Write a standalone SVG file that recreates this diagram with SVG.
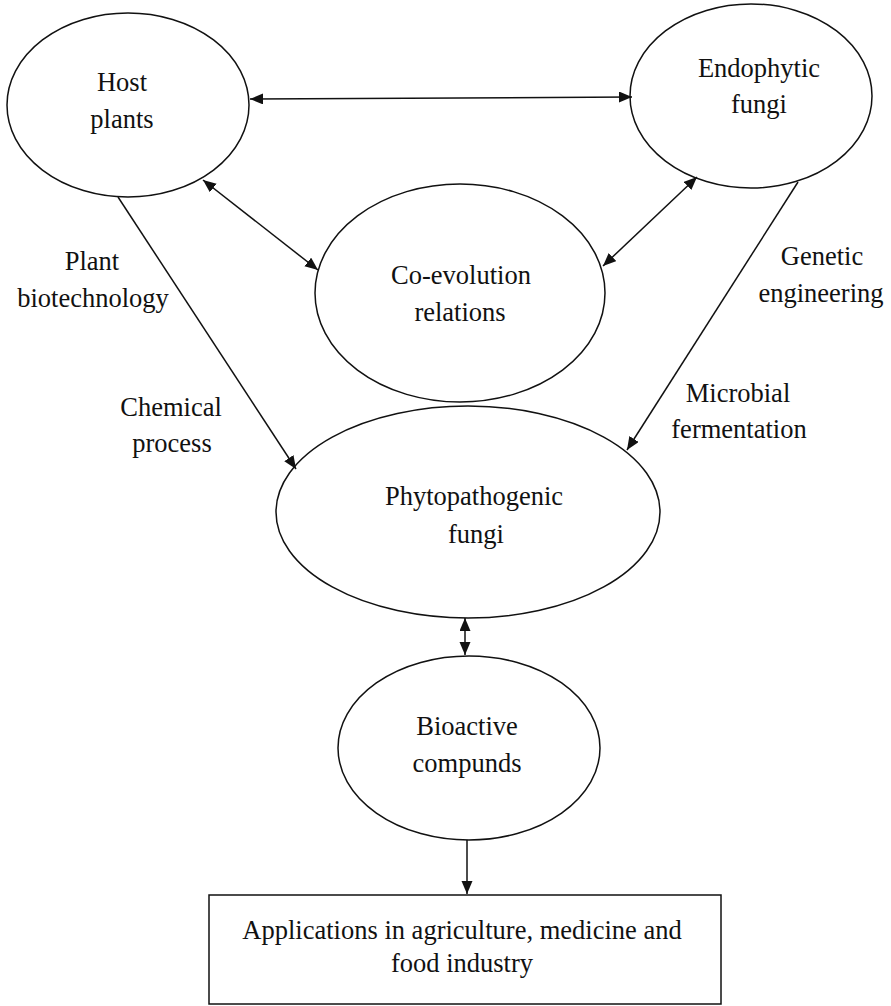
<svg xmlns="http://www.w3.org/2000/svg" width="891" height="1006" viewBox="0 0 891 1006">
<style>
.node{fill:#fff;stroke:#111;stroke-width:1.5}
.t{font-family:'Liberation Serif','Tinos','DejaVu Serif',serif;font-size:26.5px;fill:#111;text-anchor:middle}
.c{stroke:#111;stroke-width:1.5;fill:none}
</style>
<defs>
<marker id="ah" markerUnits="userSpaceOnUse" markerWidth="14" markerHeight="12" refX="13" refY="5.5" orient="auto-start-reverse" viewBox="0 0 14 12">
<path d="M0,0 L13,5.5 L0,11 z" fill="#111"/>
</marker>
</defs>
<rect width="891" height="1006" fill="#fff"/>
<g id="host-plants">
<ellipse class="node" cx="128" cy="105" rx="121" ry="92"/>
<text class="t" x="122" y="91">Host</text>
<text class="t" x="122" y="128">plants</text>
</g>
<g id="endophytic-fungi">
<ellipse class="node" cx="751" cy="96" rx="121" ry="92"/>
<text class="t" x="759" y="77">Endophytic</text>
<text class="t" x="759" y="113">fungi</text>
</g>
<g id="co-evolution">
<ellipse class="node" cx="460" cy="293" rx="145" ry="109"/>
<text class="t" x="461" y="284">Co-evolution</text>
<text class="t" x="460" y="321">relations</text>
</g>
<g id="phytopathogenic-fungi">
<ellipse class="node" cx="468" cy="512" rx="192" ry="106"/>
<text class="t" x="474" y="505">Phytopathogenic</text>
<text class="t" x="476" y="543">fungi</text>
</g>
<g id="bioactive-compounds">
<ellipse class="node" cx="469" cy="748" rx="131" ry="92"/>
<text class="t" x="467" y="735">Bioactive</text>
<text class="t" x="467" y="772">compunds</text>
</g>
<g id="applications">
<rect class="node" x="209" y="895" width="512" height="109"/>
<text class="t" x="462" y="939">Applications in agriculture, medicine and</text>
<text class="t" x="462" y="972">food industry</text>
</g>
<g id="labels">
<text class="t" x="92" y="270">Plant</text>
<text class="t" x="93" y="307">biotechnology</text>
<text class="t" x="171" y="416">Chemical</text>
<text class="t" x="172" y="452">process</text>
<text class="t" x="822" y="265">Genetic</text>
<text class="t" x="821" y="302">engineering</text>
<text class="t" x="738" y="402">Microbial</text>
<text class="t" x="739" y="438">fermentation</text>
</g>
<g id="connectors">
<line class="c" x1="250" y1="99" x2="632" y2="97" marker-start="url(#ah)" marker-end="url(#ah)"/>
<line class="c" x1="203" y1="180" x2="318" y2="270" marker-start="url(#ah)" marker-end="url(#ah)"/>
<line class="c" x1="697" y1="177" x2="603" y2="266" marker-start="url(#ah)" marker-end="url(#ah)"/>
<line class="c" x1="118" y1="197" x2="296" y2="469" marker-end="url(#ah)"/>
<line class="c" x1="798" y1="182" x2="627" y2="450" marker-end="url(#ah)"/>
<line class="c" x1="465" y1="618" x2="465" y2="655" marker-start="url(#ah)" marker-end="url(#ah)"/>
<line class="c" x1="467" y1="840" x2="467" y2="894" marker-end="url(#ah)"/>
</g>
</svg>
